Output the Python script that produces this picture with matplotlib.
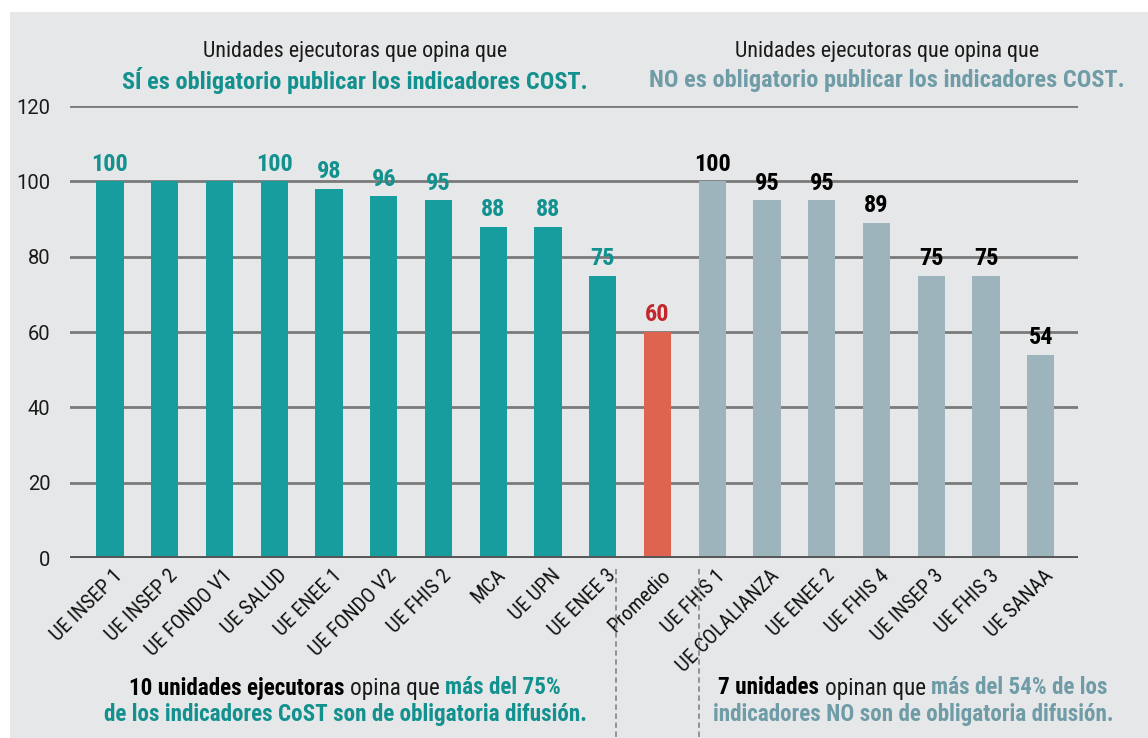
import numpy as np
import matplotlib.pyplot as plt
import matplotlib.transforms as mtransforms
from matplotlib import font_manager as fm
from matplotlib.patches import Rectangle

# pick a narrow sans if one is around, the reference uses a condensed face
names = {f.name for f in fm.fontManager.ttflist}
condensed = {f.name for f in fm.fontManager.ttflist if 'condensed' in str(f.stretch) or f.stretch in (600, 'semi-condensed')}
stretch = 'normal'
if 'Liberation Sans Narrow' in names:
    family = ['Liberation Sans Narrow', 'DejaVu Sans']
elif 'Roboto Condensed' in names:
    family = ['Roboto Condensed', 'DejaVu Sans']
elif 'DejaVu Sans' in condensed:
    family = ['DejaVu Sans']
    stretch = 'condensed'
else:
    family = ['Liberation Sans', 'DejaVu Sans']
plt.rcParams['font.family'] = family
plt.rcParams['font.stretch'] = stretch

# data
categories = ['UE INSEP 1', 'UE INSEP 2', 'UE FONDO V1', 'UE SALUD', 'UE ENEE 1',
              'UE FONDO V2', 'UE FHIS 2', 'MCA', 'UE UPN', 'UE ENEE 3', 'Promedio',
              'UE FHIS 1', 'UE COLALIANZA', 'UE ENEE 2', 'UE FHIS 4', 'UE INSEP 3',
              'UE FHIS 3', 'UE SANAA']
values = [100, 100, 100, 100, 98, 96, 95, 88, 88, 75, 60,
          100, 95, 95, 89, 75, 75, 54]
groups = ['si'] * 10 + ['avg'] + ['no'] * 7
# only some of the left-group labels are shown in the picture
show_label = [True, False, False, True, True, True, True, True, True, True, True,
              True, True, True, True, True, True, True]
yticks = [0, 20, 40, 60, 80, 100, 120]

TEAL = '#179D9E'
TEAL_TXT = '#13918F'
RED = '#DF644F'
RED_TXT = '#C4262E'
GREY = '#9DB4BD'
GREY_TXT = '#6F9CA7'
BG = '#E6E7E8'

bar_col = {'si': TEAL, 'avg': RED, 'no': GREY}
lab_col = {'si': TEAL_TXT, 'avg': RED_TXT, 'no': 'black'}

fig = plt.figure(figsize=(11.48, 7.38), dpi=100)
fig.patches.append(Rectangle((10 / 1148, 0), 1, 1 - 12 / 738, transform=fig.transFigure,
                             facecolor=BG, edgecolor='none', zorder=-10))

ax = fig.add_axes([70 / 1148, 1 - 558 / 738, 1008 / 1148, 452 / 738])
ax.set_facecolor('none')

x = np.arange(len(categories))
ax.bar(x, values, width=0.5, color=[bar_col[g] for g in groups], zorder=3)

for xi, v, g, s in zip(x, values, groups, show_label):
    if s:
        ax.annotate(str(v), (xi, v), xytext=(0, 4), textcoords='offset points',
                    ha='center', va='bottom', fontsize=17.5, fontweight='bold',
                    color=lab_col[g], zorder=4)

ax.set_xlim(-0.73, len(categories) - 1 + 0.68)
ax.set_ylim(0, 120)
for t in yticks[1:]:
    ax.axhline(t, color='#7A7A7A', lw=2, zorder=1)
ax.axhline(0, color='#555555', lw=2.8, zorder=4)

for sp in ax.spines.values():
    sp.set_visible(False)
ax.tick_params(axis='both', length=0)
ax.tick_params(axis='y', pad=14)
ax.set_yticks(yticks)
ax.set_yticklabels([str(t) for t in yticks], fontsize=14.5,
                   family=['Roboto', 'DejaVu Sans'], color='#1A1A1A')
ax.set_xticks(x)
ax.set_xticklabels(categories, rotation=45, ha='right', rotation_mode='anchor',
                   fontsize=15, color='#111111')
for lbl in ax.get_xticklabels():
    lbl.set_transform(lbl.get_transform() + mtransforms.ScaledTranslation(
        3 / 100, -3 / 100, fig.dpi_scale_trans))

# dashed separators below the axis
for xs in [9.25, 10.75]:
    ax.plot([xs, xs], [-3, -50], ls=(0, (3, 2)), color='#8C8C8C', lw=1.3,
            clip_on=False, zorder=2)

# header texts
fig.text(355 / 1148, 1 - 52 / 738, 'Unidades ejecutoras que opina que', ha='center',
         va='center', fontsize=15.8, color='#1A1A1A')
fig.text(355 / 1148, 1 - 80 / 738, 'SÍ es obligatorio publicar los indicadores COST.',
         ha='center', va='center', fontsize=17.5, fontweight='bold', color=TEAL_TXT)
fig.text(887 / 1148, 1 - 52 / 738, 'Unidades ejecutoras que opina que', ha='center',
         va='center', fontsize=15.8, color='#1A1A1A')
fig.text(887 / 1148, 1 - 80 / 738, 'NO es obligatorio publicar los indicadores COST.',
         ha='center', va='center', fontsize=17.5, fontweight='bold', color=GREY_TXT)


def mixed_line(cx, cy, pieces, size=16.7):
    renderer = fig.canvas.get_renderer()
    texts = []
    widths = []
    for s, col, w in pieces:
        t = fig.text(0, cy, s, fontsize=size, color=col, fontweight=w,
                     ha='left', va='center')
        bb = t.get_window_extent(renderer)
        texts.append(t)
        widths.append(bb.width)
    total = sum(widths)
    start = cx - total / 2
    for t, w in zip(texts, widths):
        t.set_x(start / fig.bbox.width)
        start += w


mixed_line(345, 1 - 688 / 738, [('10 unidades ejecutoras ', 'black', 'bold'),
                                ('opina que ', '#1A1A1A', 'normal'),
                                ('más del 75%', TEAL_TXT, 'bold')])
mixed_line(345, 1 - 715 / 738, [('de los indicadores CoST son de obligatoria difusión.',
                                 TEAL_TXT, 'bold')])
mixed_line(913, 1 - 688 / 738, [('7 unidades ', 'black', 'bold'),
                                ('opinan que ', '#1A1A1A', 'normal'),
                                ('más del 54% de los', GREY_TXT, 'bold')])
mixed_line(913, 1 - 715 / 738, [('indicadores NO son de obligatoria difusión.',
                                 GREY_TXT, 'bold')])

fig.savefig('out.png', dpi=100, facecolor='white')
